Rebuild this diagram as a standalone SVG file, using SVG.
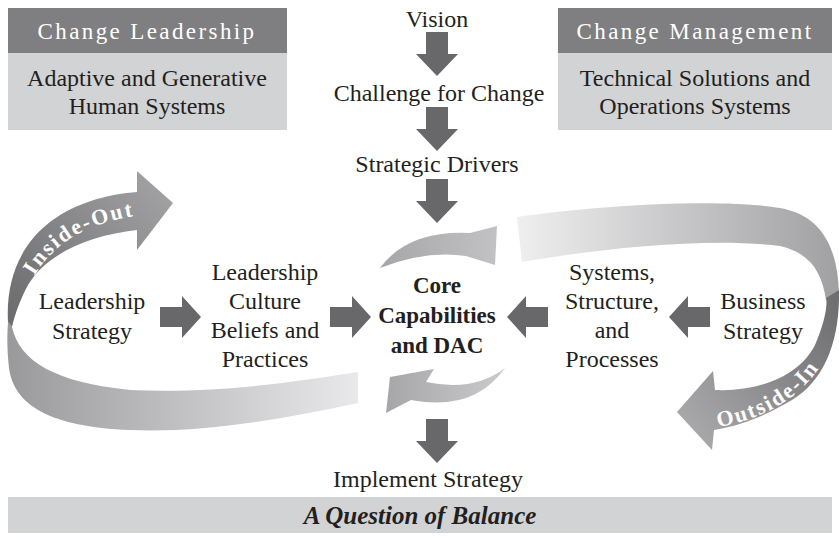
<svg xmlns="http://www.w3.org/2000/svg" width="839" height="540" viewBox="0 0 839 540">
<style>
.t{font-family:'Liberation Serif','DejaVu Serif','Noto Serif',serif;font-size:24px;fill:#231f20;text-anchor:middle}
.hd{fill:#ffffff;font-size:23px;letter-spacing:2.4px}
.bd{font-weight:bold;font-size:23px}
.rib{font-family:'Liberation Serif','DejaVu Serif','Noto Serif',serif;font-size:22px;fill:#ffffff;letter-spacing:2px;font-weight:bold}
.hdr{fill:#7f7f81}
.lt{fill:#d2d3d5}
.arr{fill:#68686b}
</style>
<defs>
<path id="ad" d="M-11,0 H11 V22 H21 L0,44 L-21,22 H-11 Z"/>
<path id="ar" d="M0,-10 H22 V-21 L41,0 L22,21 V10 H0 Z"/>
<linearGradient id="gLup" gradientUnits="userSpaceOnUse" x1="10" y1="320" x2="170" y2="190"><stop offset="0" stop-color="#6c6c6e"/><stop offset="1" stop-color="#a2a2a4"/></linearGradient>
<linearGradient id="gLlo" gradientUnits="userSpaceOnUse" x1="10" y1="0" x2="358" y2="0"><stop offset="0" stop-color="#9a9a9c"/><stop offset="1" stop-color="#e9e9eb"/></linearGradient>
<linearGradient id="gRup" gradientUnits="userSpaceOnUse" x1="517" y1="0" x2="839" y2="0"><stop offset="0" stop-color="#efeff0"/><stop offset="1" stop-color="#a0a0a2"/></linearGradient>
<linearGradient id="gRlo" gradientUnits="userSpaceOnUse" x1="836" y1="300" x2="690" y2="420"><stop offset="0" stop-color="#6e6e70"/><stop offset="1" stop-color="#a6a6a8"/></linearGradient>
<linearGradient id="gSu" gradientUnits="userSpaceOnUse" x1="380" y1="0" x2="497" y2="0"><stop offset="0" stop-color="#a6a6a8"/><stop offset="1" stop-color="#c2c2c4"/></linearGradient>
<linearGradient id="gSl" gradientUnits="userSpaceOnUse" x1="386" y1="0" x2="505" y2="0"><stop offset="0" stop-color="#a6a6a8"/><stop offset="1" stop-color="#cbcbcd"/></linearGradient>
<path id="pIn" d="M24,300 Q48,224 150,214"/>
<path id="pOut" d="M712,428 Q814,412 838,326"/>
</defs>

<g id="change-leadership">
<rect class="hdr" x="8" y="8" width="279" height="45"/>
<rect class="lt" x="8" y="53" width="279" height="77"/>
<text class="t hd" x="147" y="39">Change Leadership</text>
<text class="t" x="147" y="86">Adaptive and Generative</text>
<text class="t" x="147" y="114">Human Systems</text>
</g>

<g id="change-management">
<rect class="hdr" x="558" y="8" width="274" height="45"/>
<rect class="lt" x="558" y="53" width="274" height="77"/>
<text class="t hd" x="695" y="39">Change Management</text>
<text class="t" x="695" y="86">Technical Solutions and</text>
<text class="t" x="695" y="114">Operations Systems</text>
</g>

<g id="inside-out">
<path fill="url(#gLlo)" d="M12,327 C20,362 55,382 130,390 C220,394 300,381 358,372 L358,403 C280,420 200,433 130,430 C50,427 14,405 9,368 C7,350 7,336 8,322 Z"/>
<path fill="url(#gLup)" d="M8,322 C5,268 30,222 88,202 C108,195 124,193 137,192 L137,171 L173,203 L137,250 L137,230 C92,235 48,252 28,285 C20,300 15,314 12,327 Z"/>
<text class="rib"><textPath href="#pIn" startOffset="26">Inside-Out</textPath></text>
</g>

<g id="outside-in">
<path fill="url(#gRup)" d="M517,217 C600,205 720,198 780,208 C820,215 838,245 839,295 L826,300 C822,272 810,253 780,246 C720,238 620,245 522,262 Z"/>
<path fill="url(#gRlo)" d="M839,290 C840,340 825,380 792,400 C770,413 745,425 714,430 L712,450 L677,412 L713,371 L715,390 C760,392 800,375 815,345 C824,325 828,305 826,298 Z"/>
<text class="rib"><textPath href="#pOut" startOffset="6">Outside-In</textPath></text>
</g>

<g id="vision"><text class="t" x="437" y="27">Vision</text></g>
<g id="challenge"><text class="t" x="439" y="101">Challenge for Change</text></g>
<g id="drivers"><text class="t" x="437" y="172">Strategic Drivers</text></g>

<g id="core">
<path fill="url(#gSu)" d="M380,268 Q408,230 470,233 L497,226 L495,265 L466,256 Q426,250 380,268 Z"/>
<path fill="url(#gSl)" d="M505,368 Q474,392 426,382 L434,369 L390,377 L386,413 L411,400 Q474,412 505,368 Z"/>
<text class="t bd" x="437" y="293">Core</text>
<text class="t bd" x="437" y="323">Capabilities</text>
<text class="t bd" x="437" y="353">and DAC</text>
</g>

<g id="leadership-strategy">
<text class="t" x="92" y="309">Leadership</text>
<text class="t" x="92" y="339">Strategy</text>
</g>
<g id="leadership-culture">
<text class="t" x="265" y="280">Leadership</text>
<text class="t" x="265" y="309">Culture</text>
<text class="t" x="265" y="338">Beliefs and</text>
<text class="t" x="265" y="367">Practices</text>
</g>
<g id="systems">
<text class="t" x="612" y="280">Systems,</text>
<text class="t" x="612" y="309">Structure,</text>
<text class="t" x="612" y="338">and</text>
<text class="t" x="612" y="367">Processes</text>
</g>
<g id="business-strategy">
<text class="t" x="763" y="309">Business</text>
<text class="t" x="763" y="339">Strategy</text>
</g>
<g id="implement"><text class="t" x="428" y="487">Implement Strategy</text></g>

<g id="connectors" class="arr">
<use href="#ad" x="437" y="32"/>
<use href="#ad" x="437" y="107"/>
<use href="#ad" x="437" y="179"/>
<use href="#ad" x="437" y="419"/>
<use href="#ar" transform="translate(160,317)"/>
<use href="#ar" transform="translate(330,317)"/>
<use href="#ar" transform="translate(548,317) scale(-1,1)"/>
<use href="#ar" transform="translate(710,317) scale(-1,1)"/>
</g>

<g id="balance">
<rect class="lt" x="8" y="497" width="824" height="36"/>
<text class="t" x="420" y="524" style="font-style:italic;font-weight:bold;font-size:25px">A Question of Balance</text>
</g>
</svg>
